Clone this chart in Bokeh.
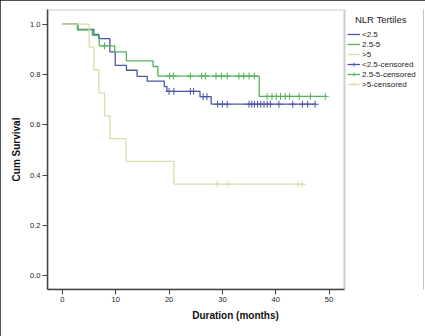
import numpy as np
from bokeh.plotting import figure
from bokeh.models import Legend, LegendItem, FixedTicker, Range1d, NumeralTickFormatter, BoxAnnotation
from bokeh.embed import file_html
from bokeh.resources import INLINE

# ---- data ----
series_names = ["<2.5", "2.5-5", ">5"]
censor_names = ["<2.5-censored", "2.5-5-censored", ">5-censored"]
legend_title = "NLR Tertiles"

low_event_t = [2.9, 5.9, 6.8, 8.9, 9.9, 12.0, 14.0, 15.9, 19.1, 19.6, 25.8, 27.9]
low_surv = [0.979, 0.960, 0.943, 0.890, 0.836, 0.817, 0.793, 0.774, 0.752, 0.733, 0.712, 0.682]
low_cens = [20.0, 20.9, 24.0, 24.6, 26.4, 27.1, 29.1, 30.0, 30.9, 35.0, 35.5, 36.0, 36.6,
            37.2, 37.8, 38.4, 39.0, 40.6, 43.2, 45.0, 46.0, 47.4]

mid_event_t = [2.8, 5.6, 6.9, 9.8, 12.0, 17.0, 17.9, 36.9]
mid_surv = [0.978, 0.956, 0.914, 0.890, 0.854, 0.832, 0.794, 0.713]
mid_cens = [7.9, 20.1, 20.8, 24.0, 26.1, 26.8, 28.8, 29.8, 30.9, 33.1, 34.0, 35.0, 36.0,
            38.4, 39.3, 40.1, 40.9, 41.8, 42.6, 44.4, 46.5, 49.3]

high_event_t = [5.0, 5.9, 6.8, 7.9, 8.9, 11.9, 20.9]
high_surv = [0.909, 0.818, 0.727, 0.636, 0.545, 0.455, 0.364]
high_cens = [29.0, 31.0, 44.2, 45.0]

x_ticks = [0, 10, 20, 30, 40, 50]
y_ticks = [0.0, 0.2, 0.4, 0.6, 0.8, 1.0]

colors = ["#4a56a6", "#55b25b", "#dcdcaa"]
FONT = "Liberation Sans"

# plot area limits (axes box) and the extra room on the right used by the legend
X_LO, X_HI = -2.8, 52.9
Y_LO, Y_HI = -0.0545, 1.0585
PX_PER_MONTH = (344 - 47) / (X_HI - X_LO)
X_VIEW_HI = X_LO + (423 - 47) / PX_PER_MONTH

p = figure(width=425, height=336, output_backend="svg", toolbar_location=None,
           x_range=Range1d(X_LO, X_VIEW_HI), y_range=Range1d(Y_LO, Y_HI),
           min_border_left=47, min_border_right=2, min_border_top=9, min_border_bottom=47,
           styles={"outline": "2px solid #1a1a1a", "outline-offset": "-2px"})
p.grid.visible = False
p.outline_line_color = None
p.background_fill_color = "white"
p.border_fill_color = "white"

box = BoxAnnotation(left=X_LO, right=X_HI, bottom=Y_LO, top=Y_HI,
                    fill_alpha=0, line_color="#555555", line_width=2, level="underlay")
p.add_layout(box)

for ax in (p.xaxis[0], p.yaxis[0]):
    ax.axis_line_color = "#444444"
    ax.axis_line_width = 1.5
    ax.major_tick_line_color = "#444444"
    ax.major_tick_out = 5
    ax.major_tick_in = 0
    ax.minor_tick_out = 0
    ax.minor_tick_in = 0
    ax.major_label_text_font = FONT
    ax.major_label_text_font_size = "7.5px"
    ax.major_label_text_color = "#222222"
    ax.major_label_standoff = 2
    ax.axis_label_text_font = FONT
    ax.axis_label_text_font_size = "10px"
    ax.axis_label_text_font_style = "bold"
    ax.axis_label_text_color = "#111111"

p.xaxis.bounds = (X_LO, X_HI)
p.xaxis.ticker = FixedTicker(ticks=x_ticks)
p.yaxis.ticker = FixedTicker(ticks=y_ticks)
p.yaxis.formatter = NumeralTickFormatter(format="0.0")
p.xaxis.axis_label = "Duration (months)"
p.yaxis.axis_label = "Cum Survival"
p.xaxis.axis_label_standoff = 5
p.yaxis.axis_label_standoff = 5

groups = [
    (low_event_t, low_surv, low_cens),
    (mid_event_t, mid_surv, mid_cens),
    (high_event_t, high_surv, high_cens),
]

line_items = []
cens_items = []
for i, (et, sv, cs) in enumerate(groups):
    end_t = max(cs)
    xs = np.array([0.0] + list(et) + [end_t])
    ys = np.array([1.0] + list(sv) + [sv[-1]])
    r = p.step(xs, ys, mode="after", line_color=colors[i], line_width=1.3)
    idx = np.searchsorted(xs, np.array(cs), side="right") - 1
    cy = ys[idx]
    c = p.scatter(cs, cy, marker="cross", size=7, line_color=colors[i], line_width=1)
    line_items.append(LegendItem(label=series_names[i], renderers=[r]))
    cens_items.append(LegendItem(label=censor_names[i], renderers=[r, c]))

legend = Legend(items=line_items + cens_items, location=(300, 200))
legend.title = "\u00a0\u00a0\u00a0" + legend_title
legend.title_text_font = FONT
legend.title_text_font_size = "9.5px"
legend.title_text_font_style = "normal"
legend.title_text_color = "#222222"
legend.title_standoff = 4
legend.border_line_color = None
legend.background_fill_alpha = 0
legend.padding = 0
legend.margin = 0
legend.spacing = 0
legend.label_height = 10
legend.glyph_height = 10
legend.glyph_width = 13
legend.label_standoff = 2
legend.label_text_font = FONT
legend.label_text_font_size = "8px"
legend.label_text_color = "#222222"
p.add_layout(legend, "center")

open("out.html", "w").write(file_html(p, INLINE))
